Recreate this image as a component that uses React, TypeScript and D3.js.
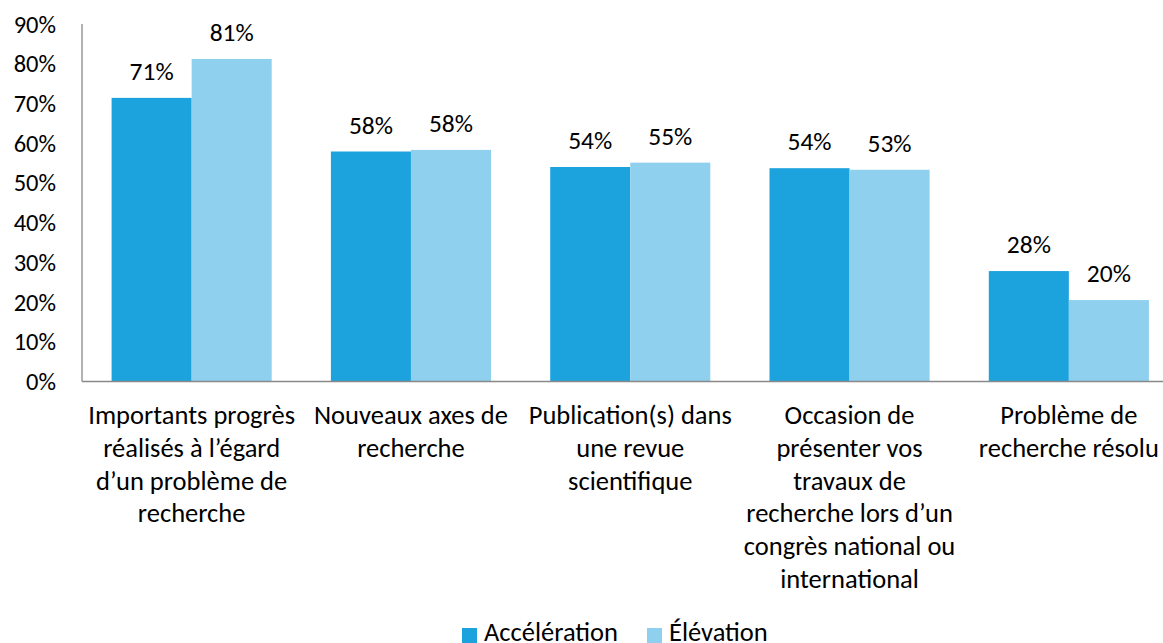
import React, { useEffect, useRef } from 'react';
import * as d3 from 'd3';

// categories, wrapped the way the reference wraps them
const categories = [
  'Importants progrès',
  'Nouveaux axes',
  'Publication(s)',
  'Occasion',
  'Problème',
];
const categoryLines = [
  ['Importants progrès', 'réalisés à l’égard', 'd’un problème de', 'recherche'],
  ['Nouveaux axes de', 'recherche'],
  ['Publication(s) dans', 'une revue', 'scientifique'],
  ['Occasion de', 'présenter vos', 'travaux de', 'recherche lors d’un', 'congrès national ou', 'international'],
  ['Problème de', 'recherche résolu'],
];
const acceleration = [71.4, 57.9, 54.0, 53.7, 27.8];
const elevation = [81.2, 58.3, 55.1, 53.3, 20.5];
const valueLabelsA = ['71%', '58%', '54%', '54%', '28%'];
const valueLabelsE = ['81%', '58%', '55%', '53%', '20%'];
const yTicks = [0, 10, 20, 30, 40, 50, 60, 70, 80, 90];
const seriesNames = ['Accélération', 'Élévation'];
const colors = ['#1ca3dd', '#8fd0ee'];

const App = () => {
  const svgRef = useRef(null);

  useEffect(() => {
    if (!svgRef.current) return;
    d3.select(svgRef.current).selectAll('*').remove();

    const width = 1163;
    const height = 643;
    const font = 'Carlito, Lato, "Liberation Sans", sans-serif';

    const svg = d3.select(svgRef.current)
      .attr('width', width)
      .attr('height', height)
      .style('font-family', font);

    const x = d3.scaleBand().domain(categories).range([82, 1178.5]).paddingInner(0).paddingOuter(0);
    const y = d3.scaleLinear().domain([0, 90]).range([381.5, 24]);

    const groupPad = 29.6; // space at each side of a pair of bars
    const x1 = d3.scaleBand()
      .domain(['a', 'e'])
      .range([groupPad, x.bandwidth() - groupPad]);

    const data = categories.map((c, i) => ({
      c,
      vals: [
        { k: 'a', v: acceleration[i], label: valueLabelsA[i], color: colors[0] },
        { k: 'e', v: elevation[i], label: valueLabelsE[i], color: colors[1] },
      ],
    }));

    const groups = svg.append('g')
      .selectAll('g')
      .data(data)
      .join('g')
      .attr('transform', d => `translate(${x(d.c)},0)`);

    groups.selectAll('rect')
      .data(d => d.vals)
      .join('rect')
      .attr('x', d => x1(d.k))
      .attr('width', x1.bandwidth())
      .attr('y', d => y(d.v))
      .attr('height', d => y(0) - y(d.v))
      .attr('fill', d => d.color);

    groups.selectAll('text.val')
      .data(d => d.vals)
      .join('text')
      .attr('class', 'val')
      .attr('x', d => x1(d.k) + x1.bandwidth() / 2)
      .attr('y', d => y(d.v) - 18)
      .attr('text-anchor', 'middle')
      .attr('font-size', 25.5)
      .attr('fill', '#000')
      .text(d => d.label);

    // axes
    svg.append('line')
      .attr('x1', 82).attr('x2', 82)
      .attr('y1', y(90)).attr('y2', y(0))
      .attr('stroke', '#898989').attr('stroke-width', 1.3);
    svg.append('line')
      .attr('x1', 82).attr('x2', width)
      .attr('y1', y(0)).attr('y2', y(0))
      .attr('stroke', '#898989').attr('stroke-width', 1.3);

    svg.append('g')
      .selectAll('text')
      .data(yTicks)
      .join('text')
      .attr('x', 56)
      .attr('y', d => y(d))
      .attr('dy', '0.35em')
      .attr('text-anchor', 'end')
      .attr('font-size', 24.5)
      .attr('fill', '#000')
      .text(d => `${d}%`);

    // category labels
    const cat = svg.append('g')
      .selectAll('text')
      .data(categories)
      .join('text')
      .attr('text-anchor', 'middle')
      .attr('font-size', 26.5)
      .attr('fill', '#000');
    cat.selectAll('tspan')
      .data((d, i) => categoryLines[i].map(l => ({ l, c: d })))
      .join('tspan')
      .attr('x', d => x(d.c) + x.bandwidth() / 2)
      .attr('y', (d, j) => 424 + j * 32.8)
      .text(d => d.l);

    // legend
    const legendItems = [
      { name: seriesNames[0], color: colors[0], x: 462 },
      { name: seriesNames[1], color: colors[1], x: 647 },
    ];
    const lg = svg.append('g').selectAll('g').data(legendItems).join('g')
      .attr('transform', d => `translate(${d.x},0)`);
    lg.append('rect')
      .attr('x', 0).attr('y', 628)
      .attr('width', 15).attr('height', 15)
      .attr('fill', d => d.color);
    lg.append('text')
      .attr('x', 22).attr('y', 641)
      .attr('font-size', 26.5)
      .attr('fill', '#000')
      .text(d => d.name);
  }, []);

  return <svg ref={svgRef} style={{ position: 'absolute', left: 0, top: 0 }}></svg>;
};

export default App;
